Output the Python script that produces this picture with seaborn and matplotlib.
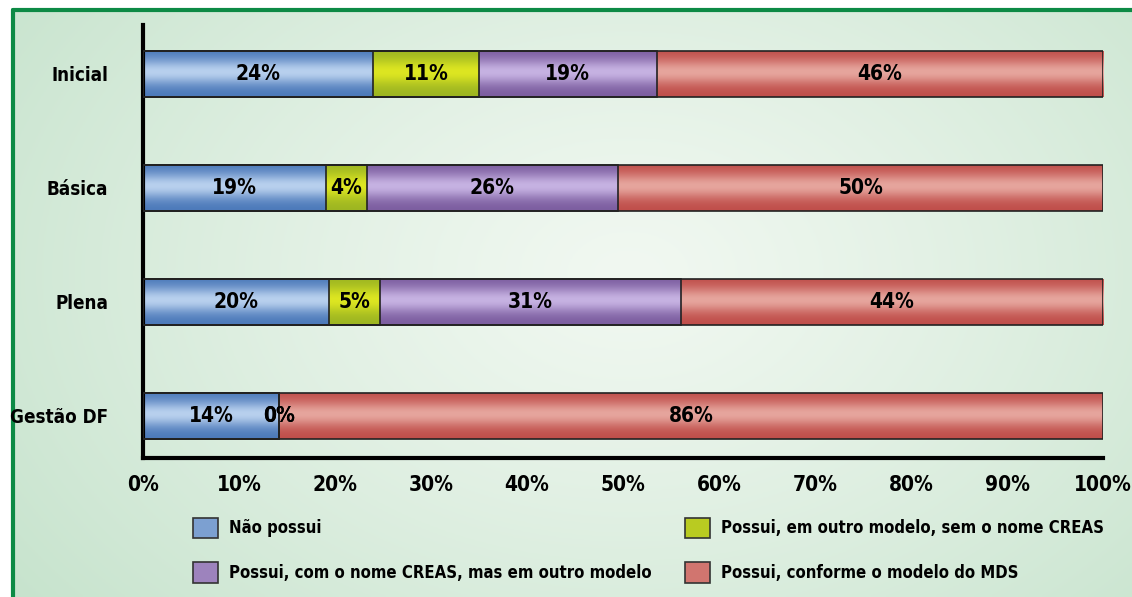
import numpy as np
import pandas as pd
import matplotlib
matplotlib.use('Agg')
import matplotlib.pyplot as plt
import seaborn as sns
from matplotlib import font_manager
from matplotlib.colors import to_rgb
from matplotlib.patches import Patch

sns.set_style('white')

# procura uma fonte estreita (condensed / narrow) entre as instaladas
estreitas = [f for f in font_manager.fontManager.ttflist
             if ('Narrow' in f.name or 'Condensed' in f.name or f.stretch in ('condensed', 'semi-condensed'))]
fam = ['DejaVu Sans']
estica = 'normal'
for f in estreitas:
    fam = [f.name, 'DejaVu Sans']
    estica = f.stretch if f.stretch != 'normal' else 'normal'
    if 'bold' in str(f.weight).lower() or str(f.weight) in ('700', '600'):
        break
plt.rcParams['font.family'] = fam
plt.rcParams['font.stretch'] = estica
plt.rcParams['font.weight'] = 'bold'
for k in ['text.color', 'xtick.color', 'ytick.color', 'axes.labelcolor']:
    plt.rcParams[k] = 'black'

# dados (percentual por tipo de gestao)
categorias = ['Inicial', 'Básica', 'Plena', 'Gestão DF']
nao_possui = [24.0, 19.1, 19.4, 14.2]
outro_modelo = [11.0, 4.2, 5.3, 0.0]
nome_creas = [18.5, 26.2, 31.3, 0.0]
conforme_mds = [46.5, 50.5, 44.0, 85.8]

rot_nao_possui = ['24%', '19%', '20%', '14%']
rot_outro_modelo = ['11%', '4%', '5%', '0%']
rot_nome_creas = ['19%', '26%', '31%', '0%']
rot_conforme_mds = ['46%', '50%', '44%', '86%']

series = ['Não possui',
          'Possui, em outro modelo, sem o nome CREAS',
          'Possui, com o nome CREAS, mas em outro modelo',
          'Possui, conforme o modelo do MDS']
valores = [nao_possui, outro_modelo, nome_creas, conforme_mds]
rotulos = [rot_nao_possui, rot_outro_modelo, rot_nome_creas, rot_conforme_mds]
# (cor da borda do gradiente, cor do centro)
cores = [('#4a78b9', '#b8d0ee'),
         ('#9cb521', '#dde622'),
         ('#7b5c9f', '#c6b2e2'),
         ('#bf4d49', '#e6a59d')]

df = pd.DataFrame(dict(zip(series, valores)), index=categorias)
cum = df.cumsum(axis=1)
inicio = cum - df

fig = plt.figure(figsize=(11.32, 5.97), dpi=100)

# fundo verde com brilho no centro
bg = fig.add_axes([13 / 1132, 0, 1 - 13 / 1132, 1 - 10 / 597], zorder=-10)
yy, xx = np.mgrid[0:1:200j, 0:1:400j]
r = np.sqrt(((xx - 0.55) / 0.75) ** 2 + ((yy - 0.45) / 1.0) ** 2)
r = np.clip(r, 0, 1) ** 1.2
claro = np.array(to_rgb('#f1f8f1'))
escuro = np.array(to_rgb('#c2e1c9'))
img = claro[None, None, :] * (1 - r[..., None]) + escuro[None, None, :] * r[..., None]
bg.imshow(img, aspect='auto', extent=(0, 1, 1, 0))
bg.plot([0, 0], [0, 1], color='#0d8a45', lw=3, transform=bg.transAxes, clip_on=False)
bg.plot([0, 1], [1, 1], color='#0d8a45', lw=3, transform=bg.transAxes, clip_on=False)
bg.set_xlim(0, 1)
bg.set_ylim(1, 0)
bg.axis('off')

ax = fig.add_axes([143 / 1132, 1 - 458 / 597, 960 / 1132, 433 / 597])
ax.patch.set_alpha(0)

# barras empilhadas: desenha do total acumulado para o menor
for s in reversed(series):
    sns.barplot(x=cum[s].values, y=categorias, orient='h', color='white',
                width=0.4, edgecolor='#222222', linewidth=1.2, ax=ax, zorder=3)
for p in ax.patches:
    p.set_facecolor('none')

# gradiente "brilhante" de cada segmento
t = np.linspace(0, 1, 64)
peso = np.exp(-((t - 0.45) / 0.28) ** 2)
for k, s in enumerate(series):
    c0 = np.array(to_rgb(cores[k][0]))
    c1 = np.array(to_rgb(cores[k][1]))
    grad = c0[None, :] * (1 - peso[:, None]) + c1[None, :] * peso[:, None]
    grad = grad[:, None, :]
    for i in range(len(categorias)):
        a, b = inicio[s].iloc[i], cum[s].iloc[i]
        if b - a > 0:
            ax.imshow(grad, aspect='auto', extent=(a, b, i + 0.2, i - 0.2),
                      zorder=2, interpolation='bilinear')
        ax.text((a + b) / 2, i, rotulos[k][i], ha='center', va='center',
                fontsize=15, fontweight='bold', color='black', zorder=5)

ax.set_xlim(0, 100)
ax.set_ylim(3.37, -0.43)
ax.set_xticks(np.arange(0, 101, 10))
ax.set_xticklabels([f'{v}%' for v in range(0, 101, 10)])
ax.set_yticks(range(len(categorias)))
ax.set_yticklabels(categorias)
ax.set_yticks([-0.43, 0.5, 1.5, 2.5, 3.37], minor=True)
ax.tick_params(axis='y', which='major', length=0, pad=25, labelsize=13.5)
ax.tick_params(axis='y', which='minor', length=13, width=1.2, color='black')
ax.tick_params(axis='x', length=7, width=1.2, color='black', labelsize=15, pad=5)
ax.set_xlabel('')
ax.set_ylabel('')
for sp in ['top', 'right']:
    ax.spines[sp].set_visible(False)
for sp in ['left', 'bottom']:
    ax.spines[sp].set_linewidth(3)
    ax.spines[sp].set_color('black')


def cor_media(k):
    return tuple(0.55 * np.array(to_rgb(cores[k][0])) + 0.45 * np.array(to_rgb(cores[k][1])))


kw = dict(loc='upper left', frameon=False, fontsize=12, handlelength=1.5, handleheight=1.5,
          labelspacing=1.45, handletextpad=0.7, borderaxespad=0)
h1 = [Patch(facecolor=cor_media(k), edgecolor='#333333', linewidth=1.2) for k in [0, 2]]
h2 = [Patch(facecolor=cor_media(k), edgecolor='#333333', linewidth=1.2) for k in [1, 3]]
leg1 = fig.legend(h1, [series[0], series[2]], bbox_to_anchor=(186 / 1132, 1 - 511 / 597), **kw)
leg2 = fig.legend(h2, [series[1], series[3]], bbox_to_anchor=(678 / 1132, 1 - 511 / 597), **kw)

fig.savefig('out.png', dpi=100)
